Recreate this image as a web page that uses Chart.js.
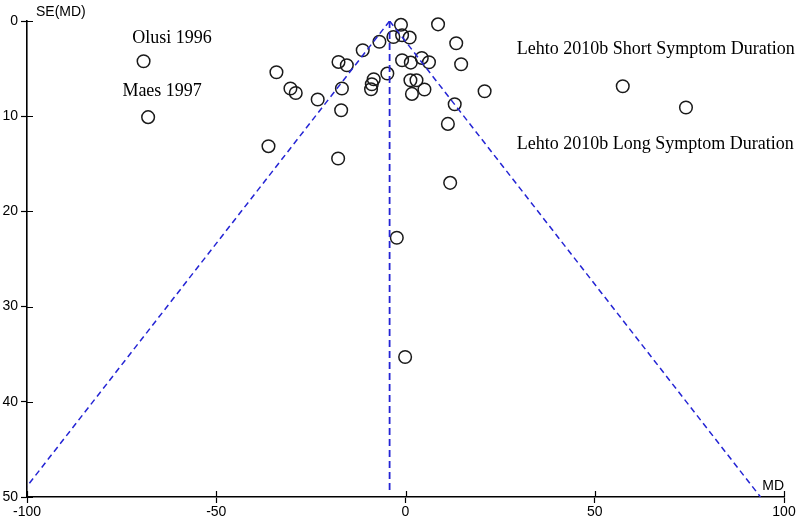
<!DOCTYPE html>
<html>
<head>
<meta charset="utf-8">
<title>Funnel plot</title>
<script src="https://cdn.jsdelivr.net/npm/chart.js@4"></script>
<style>
  html, body { margin: 0; padding: 0; background: #fff; }
  canvas { display: block; }
</style>
</head>
<body>
<canvas id="funnelChart" width="800" height="527"></canvas>
<script>
// Study estimates: mean difference (x) and standard error (y)
const studyMD = [-69.2, -68.0, -34.1, -30.4, -29.0, -23.2, -36.2, -17.8, -17.7, -15.5,
                 -11.3, -6.9, -3.2, -17.0, -16.8, -4.8, -8.4, -8.9, -9.1, -1.2,
                 8.6, -0.9, 1.1, 13.4, -0.9, 1.4, 4.3, 6.2, 14.7, 1.3,
                 2.9, 1.7, 5.0, 20.9, 13.0, 11.2, 11.8, -2.3, -0.1, 57.4, 74.1];
const studySE = [4.23, 10.1, 5.38, 7.09, 7.56, 8.25, 13.15, 14.44, 4.30, 4.65,
                 3.07, 2.18, 1.68, 9.37, 7.09, 5.52, 6.12, 6.64, 7.17, 0.40,
                 0.35, 1.50, 1.74, 2.34, 4.12, 4.37, 3.88, 4.33, 4.54, 6.22,
                 6.22, 7.66, 7.20, 7.38, 8.74, 10.81, 17.0, 22.77, 35.29, 6.85, 9.09];

// Pooled estimate and 95% pseudo confidence limits
const pooledMD = [-4.2, -4.2];
const pooledSE = [0, 49.5];
const funnelSE = [0, 50];
const funnelLower = [-4.2, -102.2];
const funnelUpper = [-4.2, 93.8];

const xTicks = [-100, -50, 0, 50, 100];
const yTicks = [0, 10, 20, 30, 40, 50];

// Labelled studies
const studyLabels = ['Olusi 1996', 'Maes 1997', 'Lehto 2010b Short Symptom Duration', 'Lehto 2010b Long Symptom Duration'];
const labelMD = [-61.7, -64.3, 29.4, 29.4];
const labelSE = [1.85, 7.35, 3.0, 12.94];

const sansFont = '"Liberation Sans", Arial, sans-serif';
const serifFont = '"Liberation Serif", "Times New Roman", serif';
const lineBlue = '#2424d4';

function toPoints(xs, ys) {
    return xs.map(function(x, i) { return { x: x, y: ys[i] }; });
}

function dashedLine(xs, ys, width, dash) {
    return {
        type: 'line',
        data: toPoints(xs, ys),
        showLine: true,
        borderColor: lineBlue,
        borderWidth: width,
        borderDash: dash,
        pointRadius: 0,
        fill: false
    };
}

// inner tick marks, study labels and axis captions
const decorations = {
    id: 'decorations',
    afterDraw: function(chart) {
        const ctx = chart.ctx;
        const xs = chart.scales.x;
        const ys = chart.scales.y;
        const area = chart.chartArea;
        ctx.save();
        ctx.strokeStyle = '#000';
        ctx.lineWidth = 1.2;
        ctx.beginPath();
        yTicks.forEach(function(v) {
            const py = Math.round(ys.getPixelForValue(v)) + 0.5;
            ctx.moveTo(area.left, py);
            ctx.lineTo(area.left + 6, py);
        });
        xTicks.forEach(function(v) {
            const px = Math.round(xs.getPixelForValue(v)) + 0.5;
            ctx.moveTo(px, area.bottom);
            ctx.lineTo(px, area.bottom - 6);
        });
        ctx.stroke();

        ctx.fillStyle = '#000';
        ctx.font = '18px ' + serifFont;
        ctx.textBaseline = 'middle';
        studyLabels.forEach(function(t, i) {
            ctx.textAlign = i < 2 ? 'center' : 'left';
            ctx.fillText(t, xs.getPixelForValue(labelMD[i]), ys.getPixelForValue(labelSE[i]));
        });

        ctx.font = '14px ' + sansFont;
        ctx.textAlign = 'left';
        ctx.fillText('SE(MD)', area.left + 9, area.top - 9);
        ctx.textAlign = 'right';
        ctx.fillText('MD', area.right, area.bottom - 11);
        ctx.restore();
    }
};

const ctx = document.getElementById('funnelChart').getContext('2d');
new Chart(ctx, {
    type: 'scatter',
    data: {
        datasets: [
            dashedLine(funnelLower, funnelSE, 1.5, [6, 4]),
            dashedLine(funnelUpper, funnelSE, 1.5, [6, 4]),
            dashedLine(pooledMD, pooledSE, 1.8, [7, 4]),
            {
                label: 'Studies',
                data: toPoints(studyMD, studySE),
                clip: false,
                pointStyle: 'circle',
                pointRadius: 6.3,
                pointHoverRadius: 6.3,
                backgroundColor: 'rgba(0,0,0,0)',
                borderColor: '#1a1a1a',
                borderWidth: 1.5
            }
        ]
    },
    options: {
        responsive: false,
        animation: false,
        devicePixelRatio: 1,
        layout: { padding: { top: 21, right: 16, left: 0, bottom: 0 } },
        plugins: {
            legend: { display: false },
            tooltip: { enabled: false }
        },
        scales: {
            x: {
                type: 'linear',
                min: -100,
                max: 100,
                afterFit: function(scale) { scale.height = 30; },
                afterBuildTicks: function(scale) {
                    scale.ticks = xTicks.map(function(v) { return { value: v }; });
                },
                grid: { drawOnChartArea: false, color: '#000', tickLength: 6, tickWidth: 1.2 },
                border: { color: '#000', width: 1.6 },
                ticks: { color: '#000', font: { family: sansFont, size: 14 }, padding: 1, maxRotation: 0, autoSkip: false }
            },
            y: {
                type: 'linear',
                reverse: true,
                min: 0,
                max: 50,
                afterFit: function(scale) { scale.width = 27; },
                afterBuildTicks: function(scale) {
                    scale.ticks = yTicks.map(function(v) { return { value: v }; });
                },
                grid: { drawOnChartArea: false, color: '#000', tickLength: 6, tickWidth: 1.2 },
                border: { color: '#000', width: 1.6 },
                ticks: { color: '#000', font: { family: sansFont, size: 14 }, padding: 3, autoSkip: false }
            }
        }
    },
    plugins: [decorations]
});
</script>
</body>
</html>
